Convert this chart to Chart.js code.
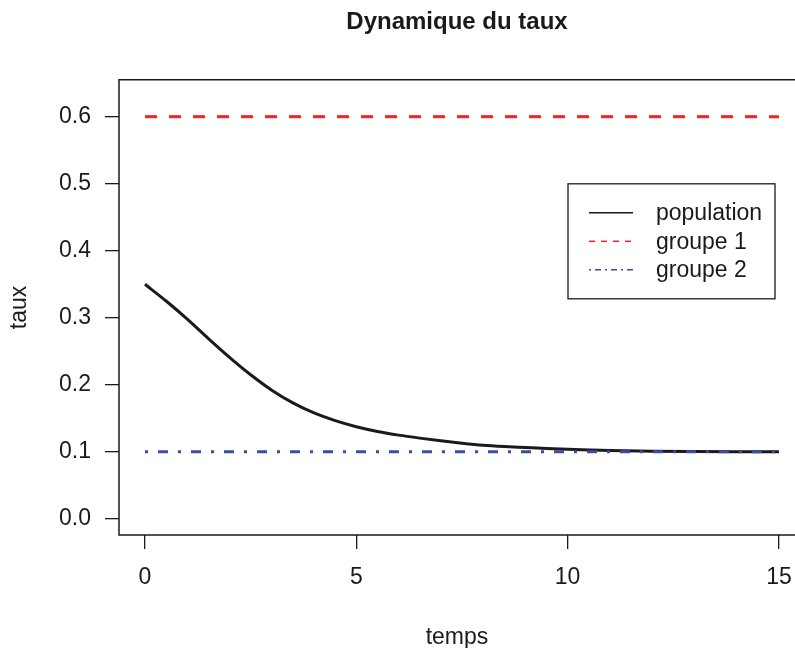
<!DOCTYPE html>
<html lang="fr">
<head>
  <meta charset="UTF-8" />
  <title>Dynamique du taux</title>
  <script src="https://cdn.jsdelivr.net/npm/chart.js"></script>
  <style>
    html, body { margin: 0; padding: 0; background: #fff; }
    #wrap { width: 795px; height: 648px; }
  </style>
</head>
<body>
  <div id="wrap"><canvas id="tauxChart" width="795" height="648"></canvas></div>

  <script>
    // valeurs
    const temps = [0, 0.5, 1, 1.5, 2, 2.5, 3, 3.5, 4, 4.5, 5, 5.5, 6, 6.5, 7, 7.5, 8, 8.5, 9, 9.5, 10, 11, 12, 13, 14, 15];
    const population = [0.350, 0.325, 0.298, 0.269, 0.241, 0.215, 0.192, 0.173, 0.158, 0.1465, 0.1375, 0.1305, 0.125, 0.1205, 0.1165, 0.113, 0.110, 0.108, 0.1065, 0.105, 0.104, 0.102, 0.101, 0.1005, 0.1002, 0.1001];
    const tempsGroupes = [0, 15];
    const groupe1 = [0.6, 0.6];
    const groupe2 = [0.1, 0.1];
    const xTicks = [0, 5, 10, 15];
    const yTicks = [0, 0.1, 0.2, 0.3, 0.4, 0.5, 0.6];

    const FONT = '"Liberation Sans", Arial, Helvetica, sans-serif';
    const INK = '#1a1a1a';

    const pts = (xs, ys) => xs.map((x, i) => ({ x: x, y: ys[i] }));

    // cadre (sans bord droit, coupé comme dans R) + légende dessinée à la main
    const cadreLegende = {
      id: 'cadreLegende',
      afterDraw(chart) {
        const ctx = chart.ctx;
        const a = chart.chartArea;
        ctx.save();
        ctx.strokeStyle = INK;
        ctx.lineWidth = 1.5;
        ctx.beginPath();
        ctx.moveTo(a.right + 1, a.top);
        ctx.lineTo(a.left, a.top);
        ctx.lineTo(a.left, a.bottom);
        ctx.lineTo(a.right + 1, a.bottom);
        ctx.stroke();

        // légende
        const bx = a.left + 449, by = a.top + 104, bw = 207, bh = 115;
        ctx.lineWidth = 1.3;
        ctx.fillStyle = '#fff';
        ctx.fillRect(bx, by, bw, bh);
        ctx.strokeRect(bx, by, bw, bh);
        ctx.font = '23px ' + FONT;
        ctx.textBaseline = 'middle';
        ctx.textAlign = 'left';
        chart.data.datasets.forEach((ds, k) => {
          const y = by + 29 + k * 28.5;
          ctx.strokeStyle = ds.borderColor;
          ctx.lineWidth = 1.5;
          ctx.setLineDash(ds.legendDash || []);
          ctx.beginPath();
          ctx.moveTo(bx + 21, y);
          ctx.lineTo(bx + 65, y);
          ctx.stroke();
          ctx.setLineDash([]);
          ctx.fillStyle = INK;
          ctx.fillText(ds.label, bx + 88, y + 1);
        });
        ctx.restore();
      }
    };

    const ctx = document.getElementById('tauxChart').getContext('2d');
    new Chart(ctx, {
      type: 'line',
      data: {
        datasets: [
          {
            label: 'population',
            data: pts(temps, population),
            borderColor: '#1a1a1a',
            borderWidth: 3,
            cubicInterpolationMode: 'monotone',
            pointRadius: 0,
            order: 3
          },
          {
            label: 'groupe 1',
            data: pts(tempsGroupes, groupe1),
            borderColor: '#F82020',
            borderWidth: 3,
            borderDash: [12, 12],
            legendDash: [6, 6],
            pointRadius: 0,
            order: 2
          },
          {
            label: 'groupe 2',
            data: pts(tempsGroupes, groupe2),
            borderColor: '#3A4CA8',
            borderWidth: 3,
            borderDash: [3, 10, 10, 10],
            legendDash: [2, 4, 6, 4],
            pointRadius: 0,
            order: 1
          }
        ]
      },
      options: {
        responsive: false,
        animation: false,
        layout: { padding: 0 },
        plugins: {
          legend: { display: false },
          tooltip: { enabled: false },
          title: {
            display: true,
            text: 'Dynamique du taux',
            fullSize: false,
            color: INK,
            font: { family: FONT, size: 24, weight: 'bold' },
            padding: { top: 8, bottom: 43 }
          }
        },
        scales: {
          x: {
            type: 'linear',
            min: -0.615,
            max: 15.38,
            afterBuildTicks: s => { s.ticks = xTicks.map(v => ({ value: v })); },
            afterFit: s => { s.height = 113; s.paddingLeft = 0; s.paddingRight = 0; },
            grid: { drawOnChartArea: false, drawTicks: true, tickLength: 14, color: INK, lineWidth: 1.3 },
            border: { display: false },
            ticks: {
              color: INK,
              font: { family: FONT, size: 23 },
              padding: 15,
              maxRotation: 0,
              callback: v => String(v)
            },
            title: {
              display: true,
              text: 'temps',
              color: INK,
              font: { family: FONT, size: 23 },
              padding: { top: 0, bottom: -3 }
            }
          },
          y: {
            min: -0.024,
            max: 0.655,
            afterBuildTicks: s => { s.ticks = yTicks.map(v => ({ value: v })); },
            afterFit: s => { s.width = 119; s.paddingTop = 0; s.paddingBottom = 0; },
            grid: { drawOnChartArea: false, drawTicks: true, tickLength: 14, color: INK, lineWidth: 1.3 },
            border: { display: false },
            ticks: {
              color: INK,
              font: { family: FONT, size: 23 },
              padding: 14,
              callback: v => v.toFixed(1)
            },
            title: {
              display: true,
              text: 'taux',
              color: INK,
              font: { family: FONT, size: 23 },
              padding: { top: 6, bottom: 0 }
            }
          }
        }
      },
      plugins: [cadreLegende]
    });
  </script>
</body>
</html>
